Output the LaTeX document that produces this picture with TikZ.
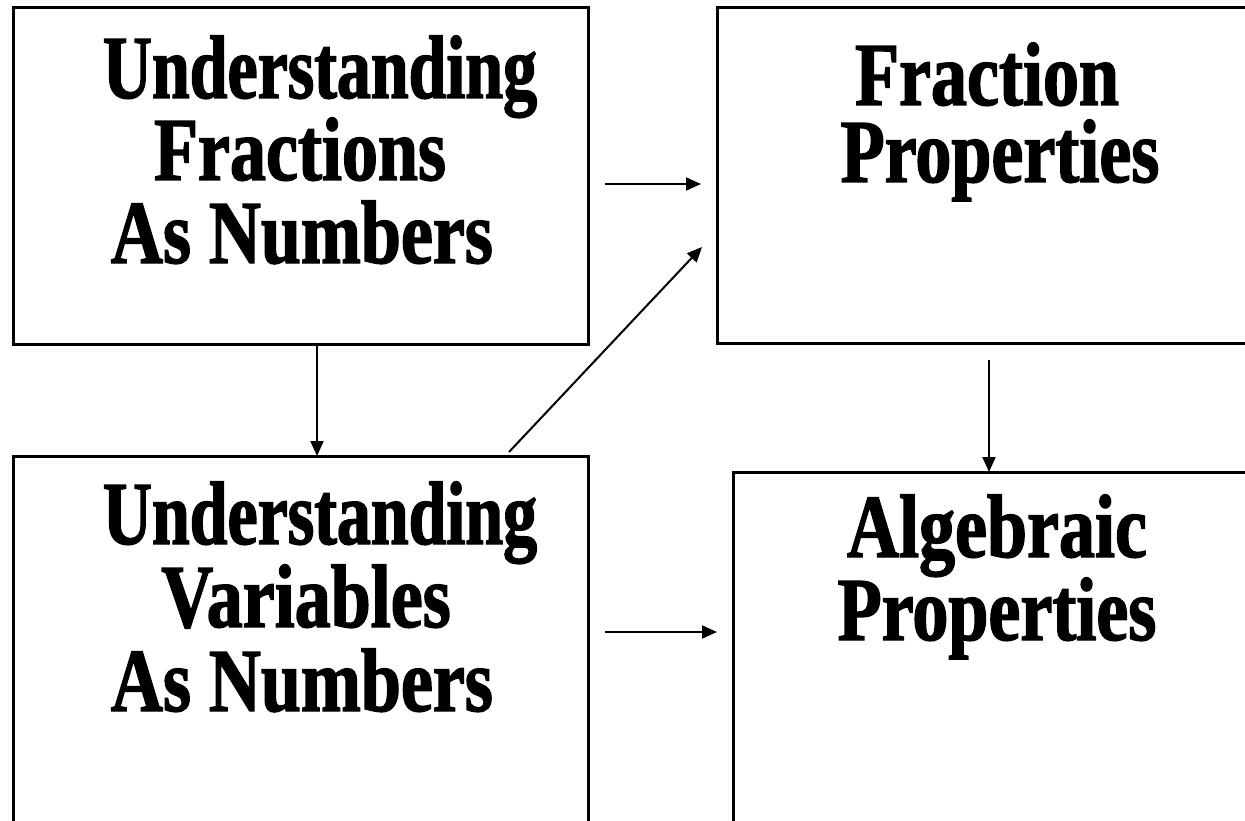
\documentclass[tikz,border=0pt]{standalone}
\usepackage{fontspec}
\setmainfont{Liberation Serif}
\newfontfamily\boxfont[FakeStretch=0.80,FakeBold=1.6]{Liberation Serif}
\newfontfamily\narrowfont[FakeStretch=0.755,FakeBold=1.6]{Liberation Serif}
\usetikzlibrary{arrows.meta}
\begin{document}
\begin{tikzpicture}[x=1pt,y=-1pt,
  box/.style={draw=black,line width=3pt},
  lbl/.style={anchor=base,inner sep=0pt,text height=58pt,text depth=14pt,font=\boxfont\bfseries\fontsize{90}{90}\selectfont},
  nlbl/.style={lbl,font=\narrowfont\bfseries\fontsize{90}{90}\selectfont},
  conn/.style={line width=2pt,-{Triangle[length=15pt,width=13pt]}}]
\useasboundingbox (0,0) rectangle (1245,821);
% boxes
\draw[box] (13.5,7.5) rectangle (588.5,344);
\draw[box] (717,7.5) rectangle (1260,343);
\draw[box] (13.5,456) rectangle (588.5,840);
\draw[box] (733,472) rectangle (1260,840);
% texts
\node[nlbl] (t1a) at (320,98) {Understanding};
\node[lbl] (t1b) at (300,180) {Fractions};
\node[lbl] (t1c) at (302,263) {As Numbers};
\node[lbl] (t2a) at (987,105) {Fraction};
\node[lbl] (t2b) at (1000,182) {Properties};
\node[nlbl] (t3a) at (320,544) {Understanding};
\node[lbl] (t3b) at (306,627) {Variables};
\node[lbl] (t3c) at (302,711) {As Numbers};
\node[lbl] (t4a) at (997,557) {Algebraic};
\node[lbl] (t4b) at (997,640) {Properties};
% connector ends
\coordinate (a1s) at (605,184);
\coordinate (a1e) at (701,184);
\coordinate (a2s) at (317,344);
\coordinate (a2e) at (317,456);
\coordinate (a3s) at (509,452);
\coordinate (a3e) at (702,247);
\coordinate (a4s) at (989,360);
\coordinate (a4e) at (989,472);
\coordinate (a5s) at (605,632);
\coordinate (a5e) at (717,632);
\draw[conn] (a1s) -- (a1e);
\draw[conn] (a2s) -- (a2e);
\draw[conn] (a3s) -- (a3e);
\draw[conn] (a4s) -- (a4e);
\draw[conn] (a5s) -- (a5e);
\end{tikzpicture}
\end{document}
